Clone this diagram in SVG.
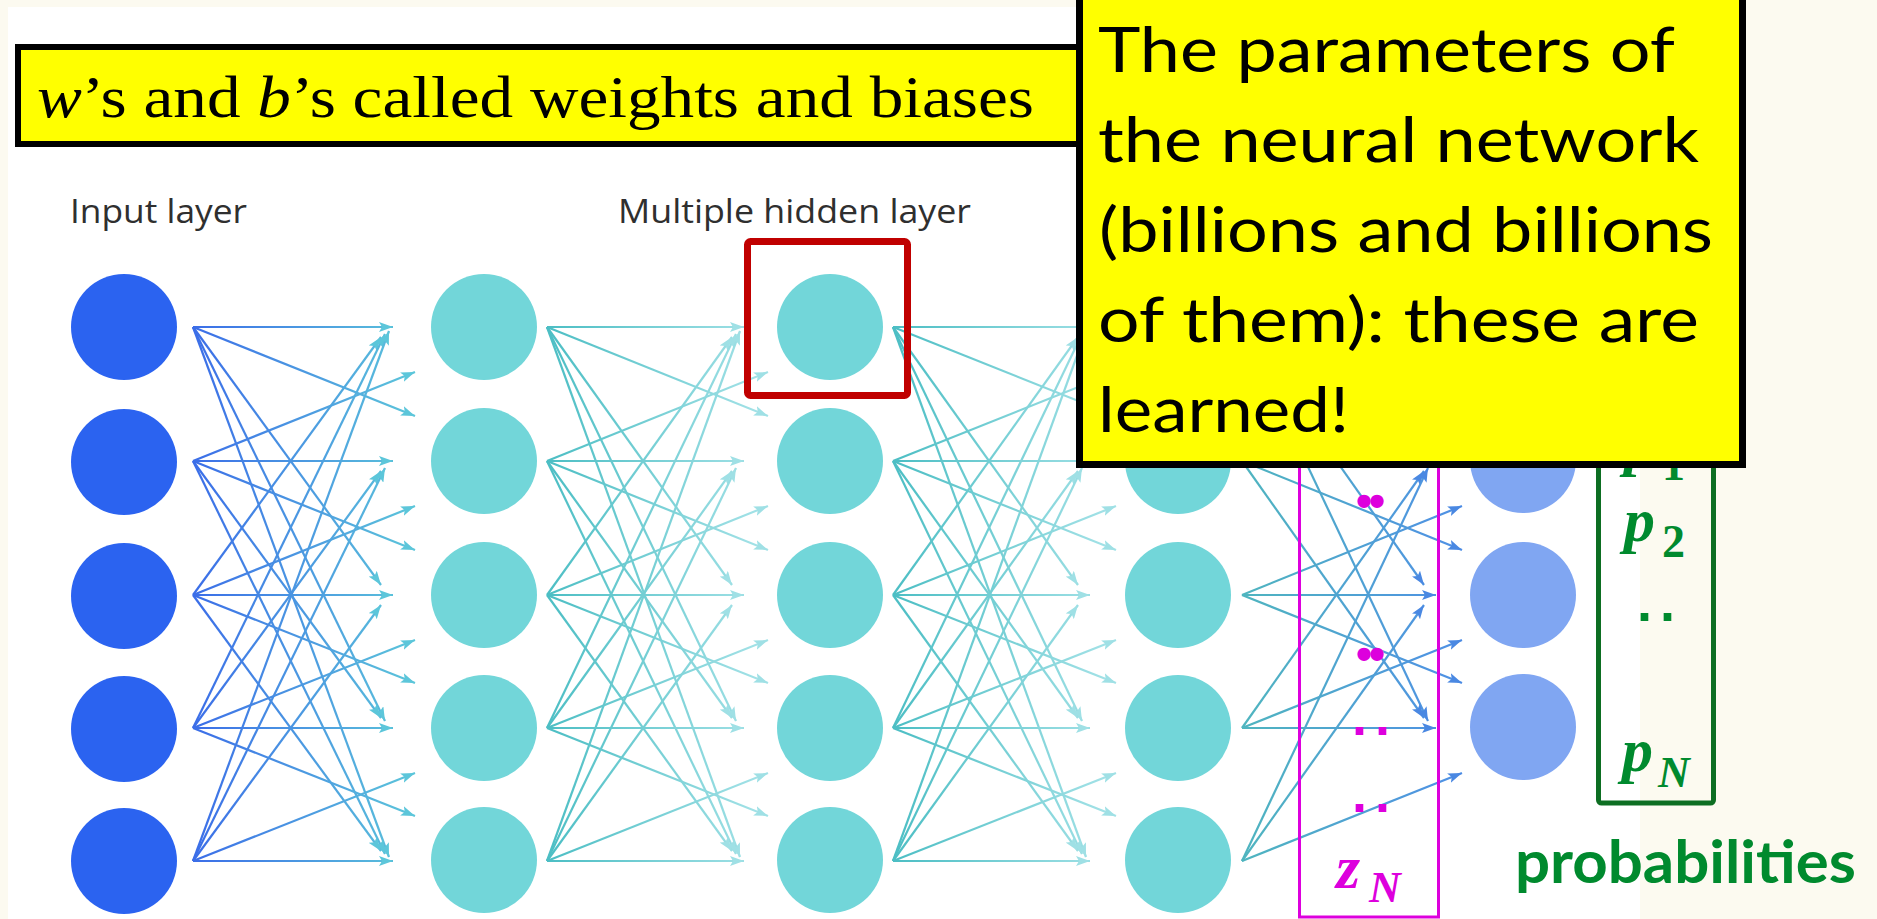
<svg xmlns="http://www.w3.org/2000/svg" width="1877" height="919" viewBox="0 0 1877 919">
<style>
.lbl{font-family:"Open Sans","Noto Sans",sans-serif;font-size:33px;fill:#2F2F2F}
.in{fill:#2B63F0}
.hid{fill:#72D6D9}
.out{fill:#80A6F2}
.cn line{stroke-width:2.2;fill:none}
.c1 line{stroke:url(#g1);marker-end:url(#m1)}
.c2 line{stroke:url(#g2);marker-end:url(#m2)}
.c3 line{stroke:url(#g3);marker-end:url(#m3)}
.c4 line{stroke:url(#g4);marker-end:url(#m4)}
.ybox{fill:#FFFF00;stroke:#000}
.co{font-family:Lato,"Liberation Sans",sans-serif;font-size:61px;fill:#000}
.mag{fill:#DD00DD}
.grn{fill:#008A2E}
.math{font-family:"Liberation Serif","DejaVu Serif",serif;font-weight:bold;font-style:italic}
.sq{font-family:"Liberation Sans",Arial,sans-serif;font-weight:bold;font-size:54px;letter-spacing:8px}
.bul{font-family:"Liberation Sans",Arial,sans-serif;font-weight:bold;font-size:46px;letter-spacing:-3px}
</style>
<defs>
<linearGradient id="g1" gradientUnits="userSpaceOnUse" x1="193" y1="0" x2="415" y2="0"><stop offset="0" stop-color="#3B6DE8"/><stop offset="1" stop-color="#5CC6DA"/></linearGradient>
<linearGradient id="g2" gradientUnits="userSpaceOnUse" x1="547" y1="0" x2="768" y2="0"><stop offset="0" stop-color="#4CBEC4"/><stop offset="1" stop-color="#A6E3E8"/></linearGradient>
<linearGradient id="g3" gradientUnits="userSpaceOnUse" x1="893" y1="0" x2="1116" y2="0"><stop offset="0" stop-color="#4CBEC4"/><stop offset="1" stop-color="#A6E3E8"/></linearGradient>
<linearGradient id="g4" gradientUnits="userSpaceOnUse" x1="1242" y1="0" x2="1462" y2="0"><stop offset="0" stop-color="#4FB5BF"/><stop offset="1" stop-color="#4F8FE6"/></linearGradient>
<marker id="m1" markerUnits="userSpaceOnUse" markerWidth="15" markerHeight="10" refX="14" refY="5" orient="auto"><path d="M0,0 L14,5 L0,10 L3,5 z" fill="#5CC6DA"/></marker>
<marker id="m2" markerUnits="userSpaceOnUse" markerWidth="15" markerHeight="10" refX="14" refY="5" orient="auto"><path d="M0,0 L14,5 L0,10 L3,5 z" fill="#9FE0E5"/></marker>
<marker id="m3" markerUnits="userSpaceOnUse" markerWidth="15" markerHeight="10" refX="14" refY="5" orient="auto"><path d="M0,0 L14,5 L0,10 L3,5 z" fill="#9FE0E5"/></marker>
<marker id="m4" markerUnits="userSpaceOnUse" markerWidth="15" markerHeight="10" refX="14" refY="5" orient="auto"><path d="M0,0 L14,5 L0,10 L3,5 z" fill="#4A88E2"/></marker>
</defs>
<rect x="0" y="0" width="1877" height="919" fill="#FCFAF0"/>
<rect x="8" y="7" width="1632" height="912" fill="#FFFFFF"/>

<g id="connectors" class="cn">
<g class="c1">
<line x1="193" y1="327" x2="393" y2="327"/><line x1="193" y1="327" x2="415" y2="416"/><line x1="193" y1="327" x2="381" y2="585"/><line x1="193" y1="327" x2="385" y2="721"/><line x1="193" y1="327" x2="389" y2="857"/>
<line x1="193" y1="461" x2="415" y2="372"/><line x1="193" y1="461" x2="393" y2="461"/><line x1="193" y1="461" x2="415" y2="550"/><line x1="193" y1="461" x2="381" y2="718"/><line x1="193" y1="461" x2="385" y2="854"/>
<line x1="193" y1="595" x2="381" y2="337"/><line x1="193" y1="595" x2="415" y2="506"/><line x1="193" y1="595" x2="393" y2="595"/><line x1="193" y1="595" x2="415" y2="683"/><line x1="193" y1="595" x2="381" y2="851"/>
<line x1="193" y1="728" x2="385" y2="334"/><line x1="193" y1="728" x2="381" y2="471"/><line x1="193" y1="728" x2="415" y2="640"/><line x1="193" y1="728" x2="393" y2="728"/><line x1="193" y1="728" x2="415" y2="816"/>
<line x1="193" y1="861" x2="389" y2="331"/><line x1="193" y1="861" x2="385" y2="468"/><line x1="193" y1="861" x2="381" y2="605"/><line x1="193" y1="861" x2="415" y2="773"/><line x1="193" y1="861" x2="393" y2="861"/>
</g>
<g class="c2">
<line x1="547" y1="327" x2="744" y2="327"/><line x1="547" y1="327" x2="768" y2="416"/><line x1="547" y1="327" x2="732" y2="585"/><line x1="547" y1="327" x2="736" y2="721"/><line x1="547" y1="327" x2="740" y2="857"/>
<line x1="547" y1="461" x2="768" y2="372"/><line x1="547" y1="461" x2="744" y2="461"/><line x1="547" y1="461" x2="768" y2="550"/><line x1="547" y1="461" x2="732" y2="718"/><line x1="547" y1="461" x2="736" y2="854"/>
<line x1="547" y1="595" x2="732" y2="337"/><line x1="547" y1="595" x2="768" y2="506"/><line x1="547" y1="595" x2="744" y2="595"/><line x1="547" y1="595" x2="768" y2="683"/><line x1="547" y1="595" x2="732" y2="851"/>
<line x1="547" y1="728" x2="736" y2="334"/><line x1="547" y1="728" x2="732" y2="471"/><line x1="547" y1="728" x2="768" y2="640"/><line x1="547" y1="728" x2="744" y2="728"/><line x1="547" y1="728" x2="768" y2="816"/>
<line x1="547" y1="861" x2="740" y2="331"/><line x1="547" y1="861" x2="736" y2="468"/><line x1="547" y1="861" x2="732" y2="605"/><line x1="547" y1="861" x2="768" y2="773"/><line x1="547" y1="861" x2="744" y2="861"/>
</g>
<g class="c3">
<line x1="893" y1="327" x2="1090" y2="327"/><line x1="893" y1="327" x2="1116" y2="416"/><line x1="893" y1="327" x2="1078" y2="585"/><line x1="893" y1="327" x2="1082" y2="721"/><line x1="893" y1="327" x2="1086" y2="857"/>
<line x1="893" y1="461" x2="1116" y2="372"/><line x1="893" y1="461" x2="1090" y2="461"/><line x1="893" y1="461" x2="1116" y2="550"/><line x1="893" y1="461" x2="1078" y2="718"/><line x1="893" y1="461" x2="1082" y2="854"/>
<line x1="893" y1="595" x2="1078" y2="337"/><line x1="893" y1="595" x2="1116" y2="506"/><line x1="893" y1="595" x2="1090" y2="595"/><line x1="893" y1="595" x2="1116" y2="683"/><line x1="893" y1="595" x2="1078" y2="851"/>
<line x1="893" y1="728" x2="1082" y2="334"/><line x1="893" y1="728" x2="1078" y2="471"/><line x1="893" y1="728" x2="1116" y2="640"/><line x1="893" y1="728" x2="1090" y2="728"/><line x1="893" y1="728" x2="1116" y2="816"/>
<line x1="893" y1="861" x2="1086" y2="331"/><line x1="893" y1="861" x2="1082" y2="468"/><line x1="893" y1="861" x2="1078" y2="605"/><line x1="893" y1="861" x2="1116" y2="773"/><line x1="893" y1="861" x2="1090" y2="861"/>
</g>
<g class="c4">
<line x1="1242" y1="327" x2="1462" y2="416"/><line x1="1242" y1="327" x2="1424" y2="585"/><line x1="1242" y1="327" x2="1428" y2="721"/>
<line x1="1242" y1="461" x2="1436" y2="461"/><line x1="1242" y1="461" x2="1462" y2="550"/><line x1="1242" y1="461" x2="1424" y2="718"/>
<line x1="1242" y1="595" x2="1462" y2="506"/><line x1="1242" y1="595" x2="1436" y2="595"/><line x1="1242" y1="595" x2="1462" y2="683"/>
<line x1="1242" y1="728" x2="1424" y2="471"/><line x1="1242" y1="728" x2="1462" y2="640"/><line x1="1242" y1="728" x2="1436" y2="728"/>
<line x1="1242" y1="861" x2="1428" y2="468"/><line x1="1242" y1="861" x2="1424" y2="605"/><line x1="1242" y1="861" x2="1462" y2="773"/>
</g>
</g>

<g id="input-layer">
<circle class="in" cx="124" cy="327" r="53"/><circle class="in" cx="124" cy="462" r="53"/><circle class="in" cx="124" cy="596" r="53"/><circle class="in" cx="124" cy="729" r="53"/><circle class="in" cx="124" cy="861" r="53"/>
</g>
<g id="hidden-layer-1">
<circle class="hid" cx="484" cy="327" r="53"/><circle class="hid" cx="484" cy="461" r="53"/><circle class="hid" cx="484" cy="595" r="53"/><circle class="hid" cx="484" cy="728" r="53"/><circle class="hid" cx="484" cy="860" r="53"/>
</g>
<g id="hidden-layer-2">
<circle class="hid" cx="830" cy="327" r="53"/><circle class="hid" cx="830" cy="461" r="53"/><circle class="hid" cx="830" cy="595" r="53"/><circle class="hid" cx="830" cy="728" r="53"/><circle class="hid" cx="830" cy="860" r="53"/>
</g>
<g id="hidden-layer-3">
<circle class="hid" cx="1178" cy="461" r="53"/><circle class="hid" cx="1178" cy="595" r="53"/><circle class="hid" cx="1178" cy="728" r="53"/><circle class="hid" cx="1178" cy="860" r="53"/>
</g>
<g id="output-layer">
<circle class="out" cx="1523" cy="460" r="53"/><circle class="out" cx="1523" cy="595" r="53"/><circle class="out" cx="1523" cy="727" r="53"/>
</g>

<g id="highlight-box">
<rect x="747.5" y="241.5" width="160" height="154" rx="3" fill="none" stroke="#C00000" stroke-width="7"/>
</g>

<g id="layer-labels">
<text class="lbl" x="70" y="223" textLength="177" lengthAdjust="spacingAndGlyphs">Input layer</text>
<text class="lbl" x="618" y="223" textLength="353" lengthAdjust="spacingAndGlyphs">Multiple hidden layer</text>
</g>

<g id="logits-box">
<rect x="1299.5" y="380" width="139" height="537" fill="none" stroke="#DD00DD" stroke-width="3"/>
<text class="bul mag" x="1356" y="517">••</text>
<text class="bul mag" x="1356" y="670">••</text>
<text class="sq mag" x="1352" y="735">..</text>
<text class="sq mag" x="1352" y="812">..</text>
<text class="math mag" x="1336" y="888" font-size="62">z<tspan x="1369" y="902" font-size="44">N</tspan></text>
</g>

<g id="probabilities-box">
<rect x="1598.5" y="380" width="115" height="423" rx="3" fill="none" stroke="#0D6E22" stroke-width="5"/>
<text class="math grn" x="1624" y="464" font-size="62">p<tspan x="1662" y="480" font-size="46" font-style="normal">1</tspan></text>
<text class="math grn" x="1624" y="541" font-size="62">p<tspan x="1662" y="557" font-size="46" font-style="normal">2</tspan></text>
<text class="sq grn" x="1637" y="621">..</text>
<text class="math grn" x="1622" y="771" font-size="62">p<tspan x="1658" y="787" font-size="44">N</tspan></text>
<text x="1515" y="883" font-family="Lato,'Liberation Sans',sans-serif" font-weight="bold" font-size="60" fill="#008A2E" textLength="341" lengthAdjust="spacingAndGlyphs">probabilities</text>
</g>

<g id="weights-note">
<rect class="ybox" x="18" y="47" width="1062" height="97" stroke-width="6"/>
<text x="37" y="117" font-family="'Liberation Serif','DejaVu Serif',serif" font-size="60" fill="#000" textLength="997" lengthAdjust="spacingAndGlyphs"><tspan font-style="italic">w</tspan>’s and <tspan font-style="italic">b</tspan>’s called weights and biases</text>
</g>

<g id="parameters-callout">
<rect class="ybox" x="1079.5" y="-10" width="663" height="474.5" stroke-width="7"/>
<text class="co" x="1098" y="72" textLength="577" lengthAdjust="spacingAndGlyphs">The parameters of</text>
<text class="co" x="1098" y="162" textLength="601" lengthAdjust="spacingAndGlyphs">the neural network</text>
<text class="co" x="1099" y="252" textLength="614" lengthAdjust="spacingAndGlyphs">(billions and billions</text>
<text class="co" x="1098" y="342" textLength="601" lengthAdjust="spacingAndGlyphs">of them): these are</text>
<text class="co" x="1098" y="432" textLength="251" lengthAdjust="spacingAndGlyphs">learned!</text>
</g>
</svg>
